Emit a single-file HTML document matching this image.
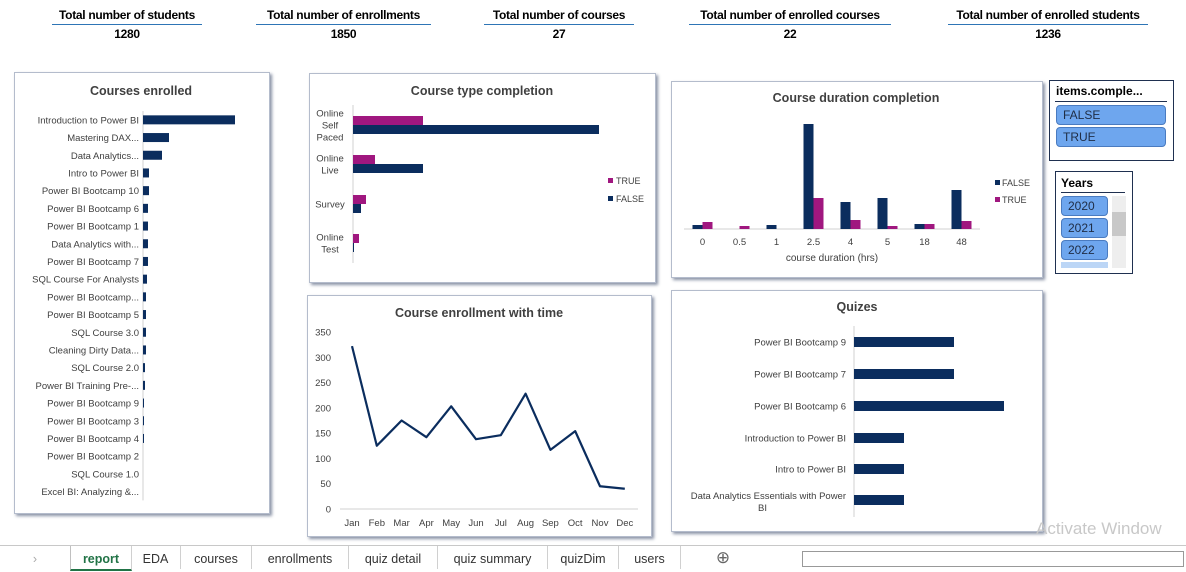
<!DOCTYPE html>
<html><head><meta charset="utf-8"><style>
body{margin:0;width:1186px;height:569px;overflow:hidden;background:#fff;font-family:"Liberation Sans",sans-serif;position:relative}
.kpi{position:absolute;top:8px;text-align:center;font-weight:bold;font-size:12px;color:#000;white-space:nowrap;letter-spacing:-0.3px}
.kpi .t{border-bottom:1.5px solid #2e75b6;padding:0 0 2px}
.kpi .v{margin-top:2px}
.panel{position:absolute;background:#fff;border:1px solid #b4bccc;box-shadow:2px 2px 3px #8a93a6}
svg text{font-family:"Liberation Sans",sans-serif}
.slicer{position:absolute;border:1.5px solid #1f3050;background:#fff}
.sitem{position:absolute;background:#6ea6ee;border:1px solid #4a7bc0;border-radius:4px;font-size:12px;color:#1f2d45;padding-left:6px;box-sizing:border-box;line-height:18px}
.tabs{position:absolute;left:0;top:545px;width:1186px;height:24px;border-top:1px solid #c8c8c8;background:#fff;font-size:12.5px;color:#333}
.tab{position:absolute;top:0;height:23px;line-height:26px;text-align:center;border-right:1px solid #d0d0d0}
</style></head><body>
<div class="kpi" style="left:52px;width:150px"><div class="t">Total number of students</div><div class="v">1280</div></div>
<div class="kpi" style="left:256px;width:175px"><div class="t">Total number of enrollments</div><div class="v">1850</div></div>
<div class="kpi" style="left:484px;width:150px"><div class="t">Total number of courses</div><div class="v">27</div></div>
<div class="kpi" style="left:689px;width:202px"><div class="t">Total number of enrolled courses</div><div class="v">22</div></div>
<div class="kpi" style="left:948px;width:200px"><div class="t">Total number of enrolled students</div><div class="v">1236</div></div>

<div class="panel" style="left:14px;top:72px;width:254px;height:440px"></div>
<div class="panel" style="left:309px;top:73px;width:345px;height:208px"></div>
<div class="panel" style="left:671px;top:81px;width:370px;height:195px"></div>
<div class="panel" style="left:307px;top:295px;width:343px;height:240px"></div>
<div class="panel" style="left:671px;top:290px;width:370px;height:240px"></div>

<svg id="s" width="1186" height="569" style="position:absolute;left:0;top:0"></svg>

<div class="slicer" style="left:1049px;top:80px;width:123px;height:79px">
<div style="position:absolute;left:6px;top:3px;font-weight:bold;font-size:12px">items.comple...</div>
<div style="position:absolute;left:5px;top:20px;width:112px;border-top:1px solid #1f3050"></div>
<div class="sitem" style="left:6px;top:24px;width:110px;height:20px">FALSE</div>
<div class="sitem" style="left:6px;top:46px;width:110px;height:20px">TRUE</div>
</div>
<div class="slicer" style="left:1055px;top:171px;width:76px;height:101px">
<div style="position:absolute;left:5px;top:4px;font-weight:bold;font-size:12px">Years</div>
<div style="position:absolute;left:5px;top:20px;width:64px;border-top:1px solid #1f3050"></div>
<div class="sitem" style="left:5px;top:24px;width:47px;height:20px">2020</div>
<div class="sitem" style="left:5px;top:46px;width:47px;height:20px">2021</div>
<div class="sitem" style="left:5px;top:68px;width:47px;height:20px">2022</div>
<div style="position:absolute;left:5px;top:90px;width:47px;height:6px;background:#bcd6f6"></div>
<div style="position:absolute;left:56px;top:24px;width:14px;height:72px;background:#eee"><div style="position:absolute;top:16px;width:14px;height:24px;background:#c8c8c8"></div></div>
</div>

<div style="position:absolute;left:1036px;top:519px;font-size:17px;color:#c8c8c8;white-space:nowrap">Activate Window</div>
<div style="position:absolute;left:1036px;top:543px;font-size:13px;color:#c8c8c8;white-space:nowrap">Go to Settings to activ</div>

<div class="tabs">
<div class="tab" style="left:0;width:70px;color:#aaa">›</div>
<div class="tab" style="left:70px;width:60px;color:#217346;font-weight:bold;border-left:1px solid #c0c0c0;border-bottom:2px solid #217346">report</div>
<div class="tab" style="left:131px;width:49px">EDA</div>
<div class="tab" style="left:181px;width:70px">courses</div>
<div class="tab" style="left:252px;width:96px">enrollments</div>
<div class="tab" style="left:349px;width:88px">quiz detail</div>
<div class="tab" style="left:438px;width:109px">quiz summary</div>
<div class="tab" style="left:548px;width:70px">quizDim</div>
<div class="tab" style="left:619px;width:61px">users</div>
<div class="tab" style="left:708px;width:30px;border:none;font-size:17px;color:#666;line-height:24px">⊕</div>
<div style="position:absolute;left:802px;top:5px;width:380px;height:14px;border:1px solid #999"></div>
</div>

<script>
const NAVY="#0b2d5e", MAG="#a0177f";
const courseNames=["Introduction to Power BI","Mastering DAX...","Data Analytics...","Intro to Power BI","Power BI Bootcamp 10","Power BI Bootcamp 6","Power BI Bootcamp 1","Data Analytics with...","Power BI Bootcamp 7","SQL Course For Analysts","Power BI Bootcamp...","Power BI Bootcamp 5","SQL Course 3.0","Cleaning Dirty Data...","SQL Course 2.0","Power BI Training Pre-...","Power BI Bootcamp 9","Power BI Bootcamp 3","Power BI Bootcamp 4","Power BI Bootcamp 2","SQL Course 1.0","Excel BI: Analyzing &..."];
const courseCounts=[460,130,95,30,30,25,25,25,25,20,15,15,15,15,10,10,5,5,5,0,0,0];
const typeCats=["Online Self Paced","Online Live","Survey","Online Test"];
const typeTrue=[140,44,26,12];
const typeFalse=[492,140,16,2];
const durCats=["0","0.5","1","2.5","4","5","18","48"];
const durFalse=[4,0,4,105,27,31,5,39];
const durTrue=[7,3,0,31,9,3,5,8];
const months=["Jan","Feb","Mar","Apr","May","Jun","Jul","Aug","Sep","Oct","Nov","Dec"];
const enrollVals=[322,125,175,142,203,138,146,228,117,154,45,40];
const yTicks=[0,50,100,150,200,250,300,350];
const quizNames=["Power BI Bootcamp 9","Power BI Bootcamp 7","Power BI Bootcamp 6","Introduction to Power BI","Intro to Power BI","Data Analytics Essentials with Power BI"];
const quizVals=[2,2,3,1,1,1];

const s=document.getElementById('s');
function el(tag,a,txt){const e=document.createElementNS("http://www.w3.org/2000/svg",tag);for(const k in a)e.setAttribute(k,a[k]);if(txt!==undefined)e.textContent=txt;s.appendChild(e);return e;}
function title(x,y,t,nm){const e=el('text',{x:x,y:y,'text-anchor':'middle','font-size':12.5,'font-weight':'bold',fill:'#404040'},t);}

title(141,95,"Courses enrolled","courses-enrolled-title");
{const x0=143,y0=111,step=17.7,sx=v=>x0+v*(92/460);
el('line',{x1:x0,y1:y0,x2:x0,y2:y0+step*courseNames.length,stroke:'#d0d0d0'});
courseNames.forEach((n,i)=>{const cy=y0+step*(i+0.5);
const t=el('text',{x:x0-4,y:cy+3.5,'text-anchor':'end','font-size':9.5,fill:'#404040'},n);

const r=el('rect',{x:x0,y:cy-4.5,width:sx(courseCounts[i])-x0,height:9,fill:NAVY});
});}

title(482,95,"Course type completion","course-type-title");
{const x0=353,sx=v=>x0+v*(246/492),cys=[125,164,204,243];
el('line',{x1:x0,y1:105,x2:x0,y2:263,stroke:'#d0d0d0'});
typeCats.forEach((c,i)=>{const cy=cys[i];
const words=c==="Online Self Paced"?["Online","Self","Paced"]:c==="Online Live"?["Online","Live"]:c==="Online Test"?["Online","Test"]:["Survey"];
words.forEach((w,j)=>{const t=el('text',{x:330,y:cy+3.5+(j-(words.length-1)/2)*12,'text-anchor':'middle','font-size':9.5,fill:'#404040'},w);});
const a=el('rect',{x:x0,y:cy-9,width:sx(typeTrue[i])-x0,height:9,fill:MAG});
const b=el('rect',{x:x0,y:cy,width:sx(typeFalse[i])-x0,height:9,fill:NAVY});});
el('rect',{x:608,y:178,width:5,height:5,fill:MAG});el('text',{x:616,y:184,'font-size':9,fill:'#404040'},"TRUE");
el('rect',{x:608,y:196,width:5,height:5,fill:NAVY});el('text',{x:616,y:202,'font-size':9,fill:'#404040'},"FALSE");}

title(856,102,"Course duration completion","duration-title");
{const base=229,x0=684,step=37,sy=v=>base-v;
el('line',{x1:x0,y1:base,x2:980,y2:base,stroke:'#d0d0d0'});
durCats.forEach((c,i)=>{const cx=x0+step*(i+0.5);
const a=el('rect',{x:cx-10,y:sy(durFalse[i]),width:10,height:durFalse[i],fill:NAVY});
const b=el('rect',{x:cx,y:sy(durTrue[i]),width:10,height:durTrue[i],fill:MAG});
el('text',{x:cx,y:245,'text-anchor':'middle','font-size':9.5,fill:'#404040'},c);});
const t=el('text',{x:832,y:261,'text-anchor':'middle','font-size':10,fill:'#404040'},"course duration (hrs)");
el('rect',{x:995,y:180,width:5,height:5,fill:NAVY});el('text',{x:1002,y:186,'font-size':9,fill:'#404040'},"FALSE");
el('rect',{x:995,y:197,width:5,height:5,fill:MAG});el('text',{x:1002,y:203,'font-size':9,fill:'#404040'},"TRUE");}

title(479,317,"Course enrollment with time","enrollment-time-title");
{const y0=509,sy=v=>y0-v*(177/350),sx=i=>352+i*24.8;
yTicks.forEach(v=>el('text',{x:331,y:sy(v)+3.5,'text-anchor':'end','font-size':9.5,fill:'#404040'},v));
el('line',{x1:340,y1:y0,x2:638,y2:y0,stroke:'#d0d0d0'});
months.forEach((m,i)=>el('text',{x:sx(i),y:526,'text-anchor':'middle','font-size':9.5,fill:'#404040'},m));
const p=el('polyline',{points:enrollVals.map((v,i)=>sx(i)+','+sy(v)).join(' '),fill:'none',stroke:NAVY,'stroke-width':2.2,'stroke-linejoin':'round'});
}

title(857,311,"Quizes","quizes-title");
{const x0=854,sx=v=>x0+v*50,cys=[342,374,406,438,469,500];
el('line',{x1:x0,y1:326,x2:x0,y2:517,stroke:'#d0d0d0'});
quizNames.forEach((n,i)=>{const cy=cys[i];
if(n.length>30){el('text',{x:846,y:cy-1,'text-anchor':'end','font-size':9.5,fill:'#404040'},"Data Analytics Essentials with Power");el('text',{x:767,y:cy+11,'text-anchor':'end','font-size':9.5,fill:'#404040'},"BI");}
else el('text',{x:846,y:cy+3.5,'text-anchor':'end','font-size':9.5,fill:'#404040'},n);
const r=el('rect',{x:x0,y:cy-5,width:sx(quizVals[i])-x0,height:10,fill:NAVY});});}
</script>
</body></html>
